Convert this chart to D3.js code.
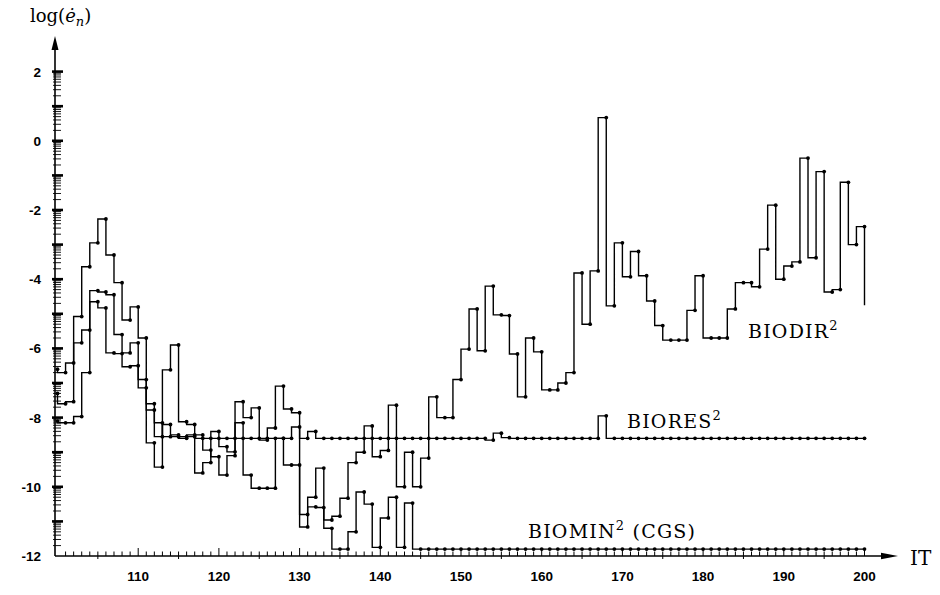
<!DOCTYPE html>
<html>
<head>
<meta charset="utf-8">
<script src="https://cdn.jsdelivr.net/npm/d3@7"></script>
<style>
  body { margin: 0; background: #fff; }
  svg { display: block; }
</style>
</head>
<body>
<div id="chart"></div>
<script>
//-------- data --------

// iteration numbers on the x axis
var iterations = d3.range(100, 201);
var xTickLabels = [110, 120, 130, 140, 150, 160, 170, 180, 190, 200];
var yTickLabels = [2, 0, -2, -4, -6, -8, -10, -12];

// log(e_n) per iteration, 100 .. 200
var biodir = [
  -6.6, -6.7, -6.42, -5.08, -3.64, -2.95, -2.26, -3.3, -4.1, -5.18,
  -4.8, -5.7, -8.73, -9.43, -6.62, -5.9, -8.12, -8.2, -9.6, -9.3,
  -8.4, -8.84, -8.99, -7.54, -8.0, -7.72, -8.65, -8.3, -7.09, -7.75,
  -7.86, -10.8, -10.3, -9.46, -10.96, -10.85, -10.33, -9.3, -9.0, -8.24,
  -9.13, -8.95, -7.64, -10.0, -9.0, -10.0, -9.17, -7.4, -8.0, -8.0,
  -6.9, -6.02, -4.86, -6.07, -4.2, -5.03, -5.05, -6.16, -7.4, -5.7,
  -6.1, -7.2, -7.2, -7.0, -6.7, -3.82, -5.3, -3.76, 0.67, -4.77,
  -2.95, -3.93, -3.2, -3.9, -4.63, -5.34, -5.76, -5.76, -5.76, -4.9,
  -3.9, -5.7, -5.7, -5.7, -4.86, -4.1, -4.1, -4.22, -3.13, -1.86,
  -4.0, -3.62, -3.5, -0.5, -3.38, -0.89, -4.37, -4.3, -1.2, -3.0,
  -2.48
];
var biodirLast = -4.75; // final drop drawn at IT = 200

var biores = [
  -7.3, -7.6, -7.54, -5.84, -5.47, -4.33, -4.37, -4.45, -5.6, -6.13,
  -5.84, -7.14, -7.78, -8.15, -8.55, -8.55, -8.55, -8.55, -8.6, -8.6,
  -8.6, -8.6, -8.6, -8.6, -8.6, -8.6, -8.6, -8.6, -8.6, -8.6,
  -8.27, -8.6, -8.4, -8.6, -8.6, -8.6, -8.6, -8.6, -8.6, -8.6,
  -8.6, -8.6, -8.6, -8.6, -8.6, -8.6, -8.6, -8.6, -8.6, -8.6,
  -8.6, -8.6, -8.6, -8.6, -8.65, -8.45, -8.58, -8.6, -8.6, -8.6,
  -8.6, -8.6, -8.6, -8.6, -8.6, -8.6, -8.6, -8.6, -7.95, -8.6,
  -8.6, -8.6, -8.6, -8.6, -8.6, -8.6, -8.6, -8.6, -8.6, -8.6,
  -8.6, -8.6, -8.6, -8.6, -8.6, -8.6, -8.6, -8.6, -8.6, -8.6,
  -8.6, -8.6, -8.6, -8.6, -8.6, -8.6, -8.6, -8.6, -8.6, -8.6,
  -8.6
];

var biomin = [
  -8.1, -8.15, -8.15, -7.97, -6.7, -4.65, -4.83, -6.13, -6.15, -6.53,
  -6.5, -6.9, -7.6, -8.55, -8.2, -8.5, -8.6, -8.5, -8.5, -8.94,
  -9.13, -9.66, -9.1, -8.15, -9.66, -10.04, -10.04, -10.04, -8.6, -9.37,
  -9.37, -11.16, -10.58, -10.6, -11.2, -11.8, -11.8, -11.3, -10.15, -10.5,
  -11.75, -10.9, -10.3, -11.75, -10.47, -11.8, -11.8, -11.8, -11.8, -11.8,
  -11.8, -11.8, -11.8, -11.8, -11.8, -11.8, -11.8, -11.8, -11.8, -11.8,
  -11.8, -11.8, -11.8, -11.8, -11.8, -11.8, -11.8, -11.8, -11.8, -11.8,
  -11.8, -11.8, -11.8, -11.8, -11.8, -11.8, -11.8, -11.8, -11.8, -11.8,
  -11.8, -11.8, -11.8, -11.8, -11.8, -11.8, -11.8, -11.8, -11.8, -11.8,
  -11.8, -11.8, -11.8, -11.8, -11.8, -11.8, -11.8, -11.8, -11.8, -11.8,
  -11.8
];

var seriesNames = ['BIODIR', 'BIORES', 'BIOMIN'];

//-------- canvas and scales --------
var width = 940, height = 595;
var svg = d3.select('#chart').append('svg').attr('width', width).attr('height', height);

var x = d3.scaleLinear().domain([100, 200]).range([57.5, 864.5]);
var y = d3.scaleLinear().domain([-12, 2]).range([556, 71.6]);
var axisX = 55, axisY = y(-12);

//-------- axes --------
var axes = svg.append('g').attr('stroke', '#000').attr('fill', 'none');

// y axis line with arrow
axes.append('line').attr('x1', axisX).attr('x2', axisX).attr('y1', axisY).attr('y2', 44).attr('stroke-width', 1.6);
svg.append('path').attr('d', 'M' + axisX + ',36 L' + (axisX - 3.5) + ',50 L' + (axisX + 3.5) + ',50 Z').attr('fill', '#000');

// x axis line with arrow
axes.append('line').attr('x1', axisX).attr('x2', 888).attr('y1', axisY).attr('y2', axisY).attr('stroke-width', 1.6);
svg.append('path').attr('d', 'M898,' + axisY + ' L881,' + (axisY - 3.2) + ' L881,' + (axisY + 3.2) + ' Z').attr('fill', '#000');

// y ticks: heavy mark at each integer, log-spaced minor marks in between
d3.range(-12, 2).forEach(function(n) {
  d3.range(2, 10).forEach(function(k) {
    var v = n + Math.log10(k);
    axes.append('line').attr('x1', axisX - 2).attr('x2', axisX + 6).attr('y1', y(v)).attr('y2', y(v)).attr('stroke-width', 0.9);
  });
});
d3.range(-11, 3).forEach(function(n) {
  axes.append('line').attr('x1', axisX - 3).attr('x2', axisX + 8).attr('y1', y(n)).attr('y2', y(n)).attr('stroke-width', 2.6);
});

// x ticks: one per iteration
d3.range(101, 201).forEach(function(i) {
  var len = (i % 10 === 0) ? 8 : 4.5;
  var below = (i % 5 === 0 && i % 10 !== 0) ? 3 : 0;
  axes.append('line').attr('x1', x(i)).attr('x2', x(i)).attr('y1', axisY + below).attr('y2', axisY - len).attr('stroke-width', 1);
});

// tick labels
svg.selectAll('.xlab').data(xTickLabels).enter().append('text')
  .attr('class', 'xlab').attr('x', function(d) { return x(d); }).attr('y', 581)
  .attr('text-anchor', 'middle').attr('font-family', 'Liberation Sans, Arial, sans-serif')
  .attr('font-weight', 'bold').attr('font-size', 13.5).text(function(d) { return d; });

svg.selectAll('.ylab').data(yTickLabels).enter().append('text')
  .attr('class', 'ylab').attr('x', 41).attr('y', function(d) { return y(d) + 5; })
  .attr('text-anchor', 'end').attr('font-family', 'Liberation Sans, Arial, sans-serif')
  .attr('font-weight', 'bold').attr('font-size', 13.5).text(function(d) { return d; });

// axis titles
var ytitle = svg.append('text').attr('x', 30).attr('y', 22).attr('font-family', 'DejaVu Serif, serif').attr('font-size', 18);
ytitle.append('tspan').text('log(');
ytitle.append('tspan').attr('font-style', 'italic').text('ė');
ytitle.append('tspan').attr('font-style', 'italic').attr('font-size', 13).attr('dy', 4).text('n');
ytitle.append('tspan').attr('dy', -4).text(')');

svg.append('text').attr('x', 910).attr('y', 565).attr('font-family', 'DejaVu Serif, serif').attr('font-size', 20).text('IT');

//-------- series --------
var allSeries = [biodir, biores, biomin];
var stepLine = d3.line()
  .x(function(d) { return x(d.it); })
  .y(function(d) { return y(d.v); })
  .curve(d3.curveStepBefore);

allSeries.forEach(function(vals, s) {
  var pts = vals.map(function(v, i) { return { it: iterations[i], v: v }; });
  var linePts = pts.slice();
  if (s === 0) linePts.push({ it: 200, v: biodirLast });
  svg.append('path').datum(linePts).attr('d', stepLine)
    .attr('fill', 'none').attr('stroke', '#000').attr('stroke-width', 1.4);
  svg.append('g').selectAll('circle').data(pts).enter().append('circle')
    .attr('cx', function(d) { return x(d.it); })
    .attr('cy', function(d) { return y(d.v); })
    .attr('r', 1.9).attr('fill', '#000');
});

//-------- series labels --------
var labelPos = [
  { name: seriesNames[0], extra: '', x: 748, y: 338 },
  { name: seriesNames[1], extra: '', x: 627, y: 428 },
  { name: seriesNames[2], extra: ' (CGS)', x: 528, y: 538 }
];
labelPos.forEach(function(d) {
  var t = svg.append('text').attr('x', d.x).attr('y', d.y)
    .attr('font-family', 'DejaVu Serif, serif').attr('font-size', 19).attr('letter-spacing', 1.2);
  t.append('tspan').text(d.name);
  t.append('tspan').attr('font-size', 13).attr('dy', -8).text('2');
  t.append('tspan').attr('dy', 8).text(d.extra);
});
</script>
</body>
</html>
